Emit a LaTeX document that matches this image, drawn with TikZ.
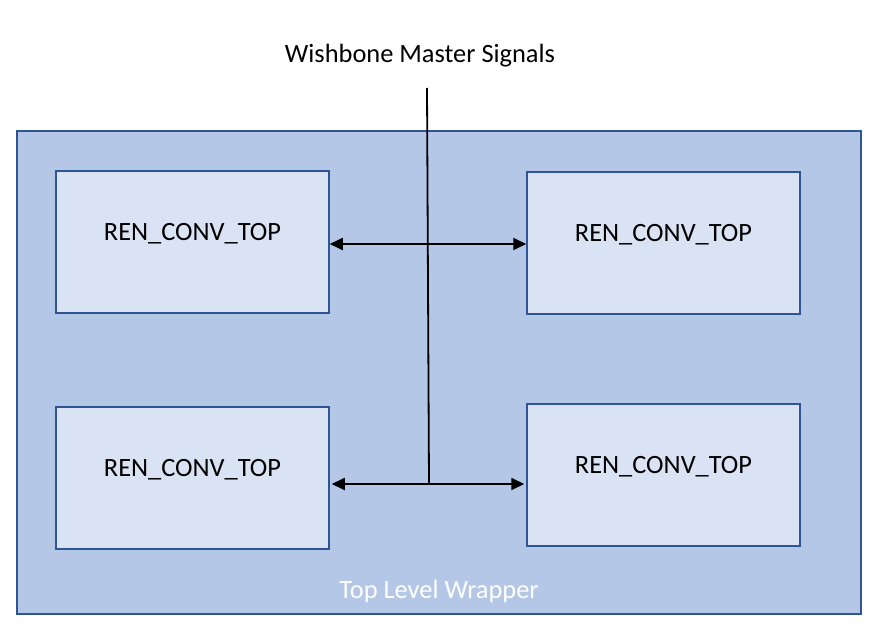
\documentclass[tikz,border=0pt]{standalone}
\usepackage{fontspec}
\setmainfont{Carlito}
\usetikzlibrary{arrows.meta}
\definecolor{wrapfill}{HTML}{B4C7E7}
\definecolor{boxfill}{HTML}{DAE3F3}
\definecolor{boxline}{HTML}{2F5597}
\begin{document}
\begin{tikzpicture}[x=1pt,y=-1pt,font=\fontsize{26.4}{30}\selectfont,
	conv/.style={draw=boxline,fill=boxfill,line width=1.5pt,minimum width=273pt,minimum height=142pt,inner sep=0pt},
	sig/.style={line width=1.8pt,{Triangle[length=13pt,width=12pt]}-{Triangle[length=13pt,width=12pt]}}]
				\useasboundingbox (0,0) rectangle (877,628);
				\node[draw=boxline,fill=wrapfill,line width=1.5pt,minimum width=844pt,minimum height=483pt,inner sep=0pt] (W) at (439,372.5) {};
				\node[text=white] (WL) at (439,591) {Top Level Wrapper};
				\node (T) at (420,56) {Wishbone Master Signals};
				\foreach \i/\x/\y in {A/192.5/242,B/663.5/243,C/192.5/478,D/663.5/475}
				\node[conv,label={[yshift=8pt]center:REN\_CONV\_TOP}] (\i) at (\x,\y) {};
				\path (427,88) coordinate (S) (428,244) coordinate (J1) (429,484) coordinate (J2);
				\draw[line width=1.8pt] (S) -- (J2);
				\draw[sig] (A.east |- J1) -- (B.west |- J1);
				\draw[sig,shorten <=2pt,shorten >=2pt] (C.east |- J2) -- (D.west |- J2);
			\end{tikzpicture}
\end{document}
